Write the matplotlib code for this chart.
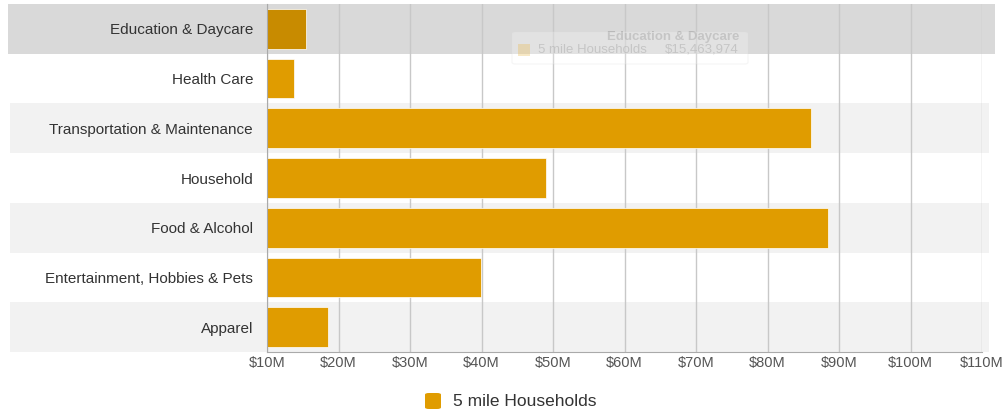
import matplotlib
matplotlib.use("Agg")
import matplotlib.pyplot as plt
from matplotlib.patches import FancyBboxPatch, Rectangle

plt.rcParams['font.family'] = ['Liberation Sans', 'DejaVu Sans']

categories = ["Education & Daycare", "Health Care", "Transportation & Maintenance",
              "Household", "Food & Alcohol", "Entertainment, Hobbies & Pets", "Apparel"]
values = [15.46, 13.8, 86.1, 49.0, 88.5, 39.9, 18.5]   # $M
xticks = [10, 20, 30, 40, 50, 60, 70, 80, 90, 100, 110]
xticklabels = ["$%dM" % t for t in xticks]
series_name = "5 mile Households"
hover_idx = 0

bar_color = "#e09c00"
hover_color = "#c88b00"

fig = plt.figure(figsize=(10.05, 4.13), dpi=100)
ax = fig.add_axes([267/1005, 1-352/413, 715/1005, 348/413])

n = len(categories)
ypos = list(range(n))

# row bands
for i in ypos:
    if i == hover_idx:
        ax.axhspan(i-0.5, i+0.5, xmin=-0.362, xmax=1.018, color="#d9d9d9", clip_on=False, zorder=0, lw=0)
    elif i % 2 == 0:
        ax.axhspan(i-0.5, i+0.5, xmin=-0.36, xmax=1.01, color="#f2f2f2", clip_on=False, zorder=0, lw=0)

for t in xticks:
    ax.axvline(t, color="#c8c8c8", lw=1, zorder=1)

colors = [hover_color if i == hover_idx else bar_color for i in ypos]
ax.barh(ypos, [v - 10 for v in values], left=10, height=0.8, color=colors, zorder=2,
        edgecolor="white", linewidth=0.5)

ax.set_xlim(10, 110)
ax.set_ylim(n-0.5, -0.5)
ax.set_yticks(ypos)
ax.set_yticklabels(categories, fontsize=11, color="#333333")
ax.set_xticks(xticks)
ax.set_xticklabels(xticklabels, fontsize=10.5, color="#555555")
ax.tick_params(length=0)
ax.tick_params(axis='x', pad=3)
ax.tick_params(axis='y', pad=10)
for s in ["top", "right"]:
    ax.spines[s].set_visible(False)
ax.spines["left"].set_color("#aaaaaa")
ax.spines["bottom"].set_color("#aaaaaa")
ax.patch.set_alpha(0)

# faint tooltip
tip = FancyBboxPatch((512/1005, 1-64/413), 236/1005, 32/413, boxstyle="round,pad=0,rounding_size=0.004",
                     transform=fig.transFigure, facecolor="white", edgecolor="#dddddd",
                     alpha=0.25, zorder=5)
fig.patches.append(tip)
fig.text(739/1005, 1-37/413, categories[hover_idx], ha="right", va="center", fontsize=9.5,
         color="#999999", alpha=0.6, fontweight="bold")
fig.text(739/1005, 1-50/413, "$15,463,974", ha="right", va="center", fontsize=9.5,
         color="#999999", alpha=0.6)
fig.text(538/1005, 1-50/413, series_name, ha="left", va="center", fontsize=9.5,
         color="#999999", alpha=0.6)
fig.patches.append(Rectangle((518/1005, 1-56/413), 12/1005, 12/413, transform=fig.transFigure,
                             facecolor=bar_color, alpha=0.3))

# legend
fig.patches.append(FancyBboxPatch((425/1005, 1-409/413), 16/1005, 16/413,
                                  boxstyle="round,pad=0,rounding_size=0.004",
                                  transform=fig.transFigure, facecolor=bar_color, edgecolor="none"))
fig.text(453/1005, 1-401/413, series_name, ha="left", va="center", fontsize=12.5, color="#333333")

fig.savefig("out.png", dpi=100)
